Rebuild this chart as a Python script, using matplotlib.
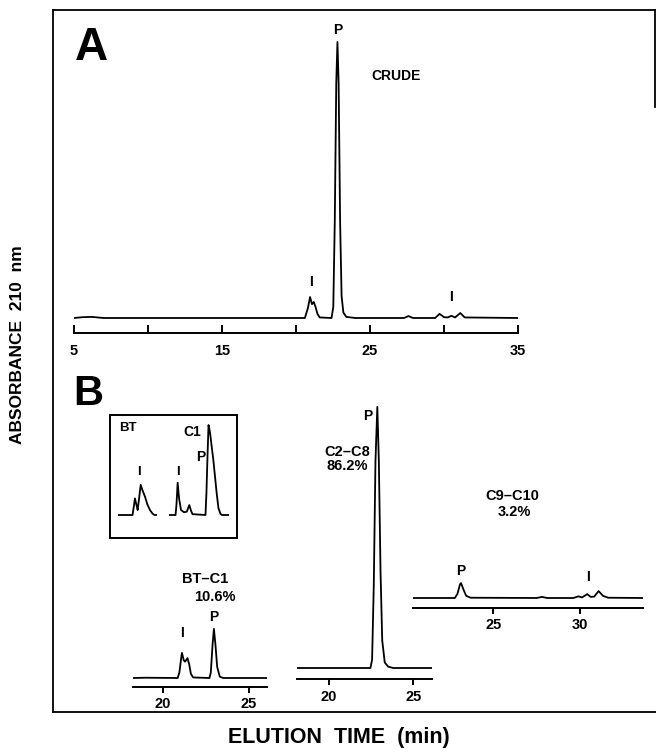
import matplotlib
matplotlib.use("Agg")
import matplotlib.pyplot as plt
from matplotlib.lines import Line2D

plt.rcParams['font.family'] = ['Liberation Sans', 'DejaVu Sans']
plt.rcParams['font.weight'] = 'bold'

# ---------------- data (time in min, absorbance in arbitrary units) ----------------
crude_time = [5.0, 5.6, 6.2, 7.0, 20.6, 20.8, 20.95, 21.08, 21.2, 21.32, 21.45, 21.6,
              22.4, 22.52, 22.62, 22.72, 22.8, 22.88, 22.98, 23.08, 23.2, 23.4, 24.0,
              27.3, 27.6, 27.9, 29.4, 29.7, 30.0, 30.25, 30.5, 30.75, 31.1, 31.4, 35.0]
crude_abs = [0.0, 0.3, 0.4, 0.0, 0.0, 3.5, 7.6, 5.0, 5.8, 4.0, 1.5, 0.2,
             0.0, 4.0, 35.0, 85.0, 100.0, 85.0, 35.0, 8.0, 2.0, 0.4, 0.0,
             0.0, 0.7, 0.0, 0.0, 1.5, 0.3, 0.2, 0.8, 0.2, 1.8, 0.2, 0.0]

inset_bt_time = [19.75, 20.66, 20.75, 20.81, 20.91, 20.98, 21.08, 21.17, 21.28, 21.44,
                 21.59, 21.75, 21.91, 22.03, 22.19]
inset_bt_abs = [0.0, 0.0, 3.5, 6.0, 3.5, 1.8, 6.5, 10.9, 9.0, 6.6, 3.8, 1.8, 0.5, 0.0, 0.0]

inset_c1_time = [20.5, 20.91, 20.97, 21.04, 21.13, 21.25, 21.44, 21.61, 21.77, 21.88, 21.97,
                 22.78, 22.84, 22.91, 22.97, 23.06, 23.27, 23.48, 23.59, 23.72, 23.81, 24.25]
inset_c1_abs = [0.0, 0.0, 4.0, 11.7, 6.0, 1.8, 1.0, 1.2, 3.6, 1.5, 0.3,
                0.0, 8.0, 22.0, 32.6, 30.0, 20.0, 7.9, 2.5, 0.4, 0.0, 0.0]

btc1_time = [18.25, 19.0, 20.85, 20.95, 21.05, 21.1, 21.2, 21.28, 21.42, 21.52, 21.62, 21.75,
             22.7, 22.78, 22.88, 22.96, 23.05, 23.15, 23.3, 23.5, 26.05]
btc1_abs = [0.0, 0.1, 0.0, 2.0, 7.0, 9.1, 6.5, 5.9, 7.2, 5.0, 1.5, 0.2,
            0.0, 2.0, 12.0, 17.8, 12.0, 4.0, 0.5, 0.0, 0.0]

c2c8_time = [18.1, 22.45, 22.55, 22.65, 22.75, 22.86, 22.95, 23.05, 23.15, 23.3, 23.5, 23.8, 26.1]
c2c8_abs = [0.0, 0.0, 3.0, 30.0, 75.0, 94.6, 75.0, 35.0, 10.0, 2.0, 0.5, 0.0, 0.0]

c9c10_time = [20.4, 22.8, 22.95, 23.1, 23.16, 23.3, 23.45, 23.7, 27.5, 27.8, 28.1,
              29.6, 29.9, 30.1, 30.4, 30.6, 30.8, 31.05, 31.3, 31.6, 33.6]
c9c10_abs = [0.0, 0.0, 1.5, 5.0, 5.4, 3.0, 0.8, 0.1, 0.0, 0.4, 0.0,
             0.0, 0.6, 0.2, 1.4, 0.4, 0.5, 2.5, 0.8, 0.1, 0.0]

crude_ticks = [5, 10, 15, 20, 25, 30, 35]
crude_ticklabels = ['5', '', '15', '', '25', '', '35']
btc1_ticks = [20, 25]
c2c8_ticks = [20, 25]
c9c10_ticks = [25, 30]

# ---------------- figure ----------------
W, H = 656, 750
fig = plt.figure(figsize=(W / 100, H / 100), dpi=100)
PXU = 2.76  # pixels per absorbance unit
LW = 1.3


def fx(x):
    return x / W


def fy(y):
    return 1 - y / H


def chrom_axes(x0, x1, spine_y, top_y, base_y, xlim):
    ax = fig.add_axes([fx(x0), fy(spine_y), (x1 - x0) / W, (spine_y - top_y) / H])
    lo = -(spine_y - base_y) / PXU
    hi = lo + (spine_y - top_y) / PXU
    ax.set_xlim(*xlim)
    ax.set_ylim(lo, hi)
    for s in ['top', 'right', 'left']:
        ax.spines[s].set_visible(False)
    ax.spines['bottom'].set_linewidth(1.4)
    ax.yaxis.set_visible(False)
    ax.patch.set_visible(False)
    return ax


def txt(x, y, s, size=10, **kw):
    fig.text(fx(x), fy(y), s, ha='center', va='center', fontsize=size,
             fontweight='bold', **kw)


# frame
for (xa, ya, xb, yb) in [(53, 10, 53, 712), (53, 10, 655, 10), (655, 10, 655, 107),
                         (53, 712, 656, 712)]:
    fig.add_artist(Line2D([fx(xa), fx(xb)], [fy(ya), fy(yb)], color='black', lw=1.3))

# Panel A
axA = chrom_axes(74, 518, 333, 20, 318, (5, 35))
axA.plot(crude_time, crude_abs, color='black', lw=LW, solid_joinstyle='round')
axA.set_xticks(crude_ticks)
axA.set_xticklabels(crude_ticklabels)
axA.tick_params(axis='x', direction='in', length=6, width=1.4, pad=8, labelsize=10.5)

txt(91, 48, 'A', size=33)
txt(338, 30, 'P', size=10)
txt(396, 76, 'CRUDE', size=10)
txt(311, 282, 'I', size=10)
txt(451, 297, 'I', size=10)

# Panel B
txt(88, 394, 'B', size=30)

# inset box
box = fig.add_axes([fx(110), fy(538), (237 - 110) / W, (538 - 415) / H])
box.set_xticks([])
box.set_yticks([])
for s in box.spines.values():
    s.set_linewidth(1.4)

ax_bt = chrom_axes(118, 157, 530, 420, 515, (inset_bt_time[0], inset_bt_time[-1]))
ax_bt.axis('off')
ax_bt.plot(inset_bt_time, inset_bt_abs, color='black', lw=LW)
ax_c1 = chrom_axes(169, 229, 530, 420, 515, (inset_c1_time[0], inset_c1_time[-1]))
ax_c1.axis('off')
ax_c1.plot(inset_c1_time, inset_c1_abs, color='black', lw=LW)
txt(128, 428, 'BT', size=9.5)
txt(139, 472, 'I', size=9.5)
txt(192, 432, 'C1', size=10)
txt(201, 457, 'P', size=10)
txt(178, 472, 'I', size=9.5)

# BT-C1
ax1 = chrom_axes(133, 267, 687, 600, 678, (18.25, 26.05))
ax1.plot(btc1_time, btc1_abs, color='black', lw=LW)
ax1.set_xticks(btc1_ticks)
ax1.tick_params(axis='x', direction='out', length=4, width=1.4, pad=3, labelsize=10.5)
txt(205, 579, 'BT\u2013C1', size=10.5)
txt(215, 597, '10.6%', size=10.5)
txt(182, 633, 'I', size=10)
txt(214, 617, 'P', size=10)

# C2-C8
ax2 = chrom_axes(297, 432, 679, 395, 668, (18.1, 26.1))
ax2.plot(c2c8_time, c2c8_abs, color='black', lw=LW)
ax2.set_xticks(c2c8_ticks)
ax2.tick_params(axis='x', direction='out', length=4, width=1.4, pad=4, labelsize=10.5)
txt(368, 416, 'P', size=10)
txt(347, 452, 'C2\u2013C8', size=10.5)
txt(347, 466, '86.2%', size=10.5)

# C9-C10
ax3 = chrom_axes(413, 643, 608, 540, 598, (20.4, 33.6))
ax3.plot(c9c10_time, c9c10_abs, color='black', lw=LW)
ax3.set_xticks(c9c10_ticks)
ax3.tick_params(axis='x', direction='out', length=4, width=1.4, pad=3, labelsize=10.5)
txt(512, 496, 'C9\u2013C10', size=10.5)
txt(514, 512, '3.2%', size=10.5)
txt(461, 571, 'P', size=10)
txt(588, 577, 'I', size=10)

for ax in (axA, ax1, ax2, ax3):
    for lab in ax.get_xticklabels():
        lab.set_fontweight('bold')

# axis titles
txt(18, 345, 'ABSORBANCE  210  nm', size=12.5, rotation=90)
txt(339, 738, 'ELUTION  TIME  (min)', size=15.5)

fig.savefig('out.png', dpi=100)
